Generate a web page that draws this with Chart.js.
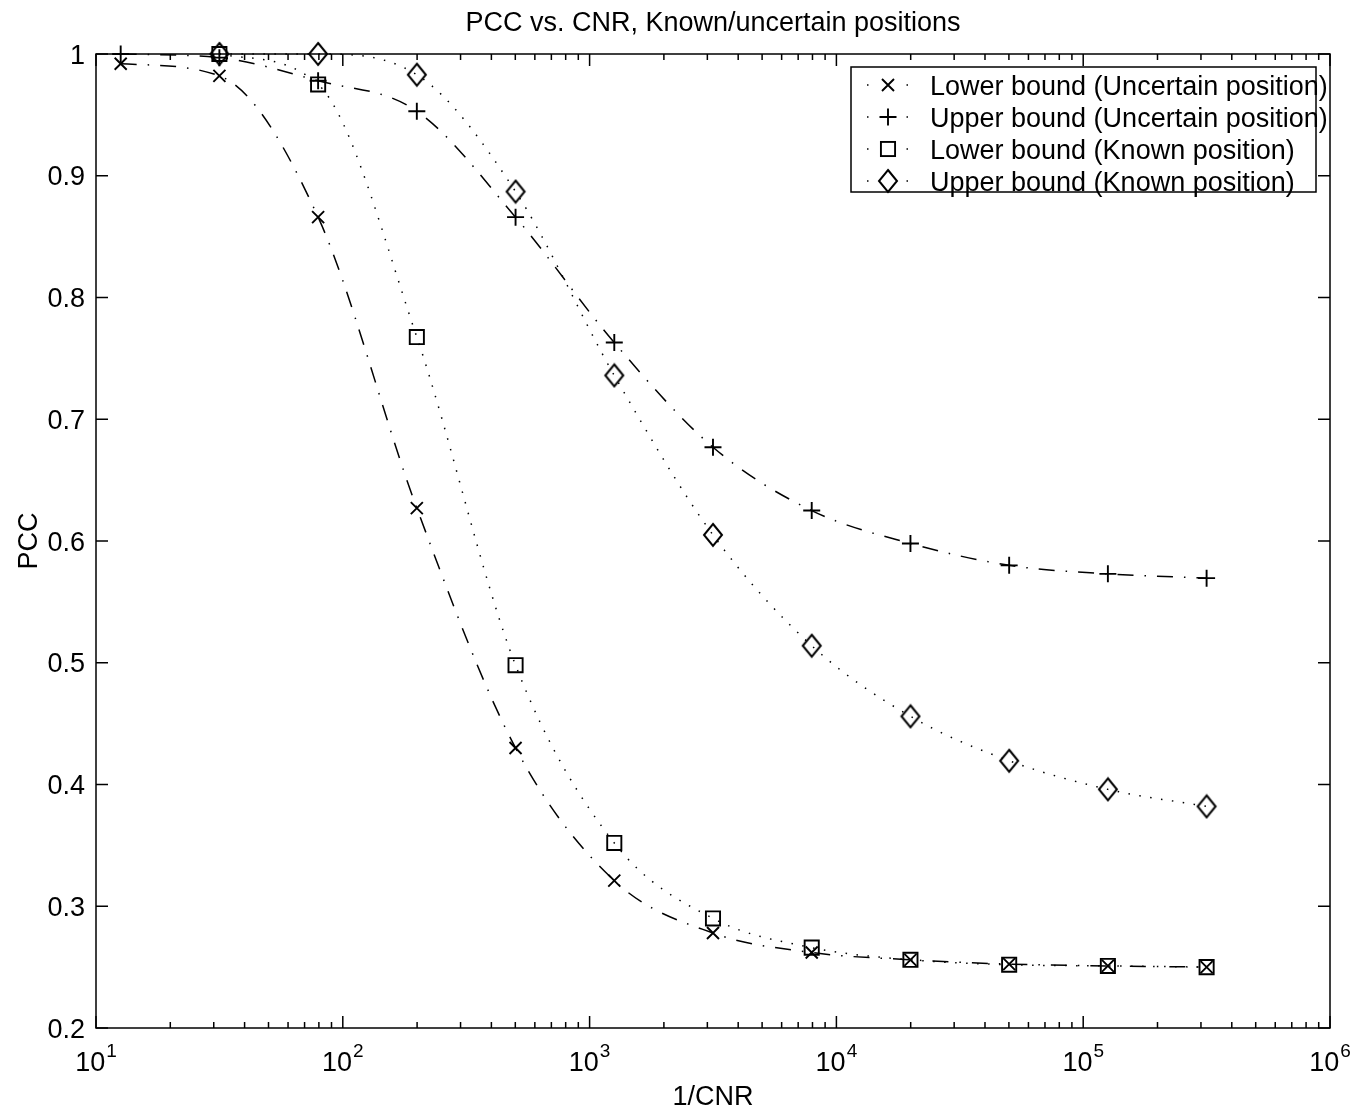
<!DOCTYPE html>
<html><head><meta charset="utf-8">
<script src="https://cdn.jsdelivr.net/npm/chart.js@4.4.0/dist/chart.umd.min.js"></script>
<style>html,body{margin:0;padding:0;background:#fff;} #wrap{width:1356px;height:1111px;position:relative;}</style>
</head><body><div id="wrap"><canvas id="c"></canvas></div>
<script>
// ---------- data ----------
const titleText = 'PCC vs. CNR, Known/uncertain positions';
const xAxisLabel = '1/CNR';
const yAxisLabel = 'PCC';
const cnr = [12.59, 31.62, 79.43, 199.5, 501.2, 1259, 3162, 7943, 19953, 50119, 125893, 316228];
const lowerUncertain = [0.992, 0.982, 0.866, 0.627, 0.430, 0.321, 0.278, 0.262, 0.256, 0.2525, 0.251, 0.250];
const upperUncertain = [1.000, 0.997, 0.978, 0.953, 0.866, 0.763, 0.677, 0.625, 0.598, 0.580, 0.573, 0.5695];
const lowerKnown     = [null, 1.000, 0.975, 0.7675, 0.498, 0.352, 0.290, 0.266, 0.256, 0.252, 0.251, 0.250];
const upperKnown     = [null, 1.000, 1.000, 0.983, 0.887, 0.736, 0.605, 0.514, 0.456, 0.4195, 0.396, 0.382];
const seriesLabels = ['Lower bound (Uncertain position)', 'Upper bound (Uncertain position)',
                      'Lower bound (Known position)', 'Upper bound (Known position)'];
const xMajorTicks = [10, 100, 1000, 10000, 100000, 1000000];
const xTickExponents = ['1', '2', '3', '4', '5', '6'];
const xMinorMultipliers = [2, 3, 4, 5, 6, 7, 8, 9];
const yTicks = [0.2, 0.3, 0.4, 0.5, 0.6, 0.7, 0.8, 0.9, 1.0];
const yTickLabels = ['0.2', '0.3', '0.4', '0.5', '0.6', '0.7', '0.8', '0.9', '1'];

// ---------- styles ----------
const FONT = "'Liberation Sans', Arial, Helvetica, sans-serif";
const FS = 27;
const dashDot = [16, 11, 1.5, 11];
const dotted = [1.5, 9.5];

function diamondCanvas() {
  const c = document.createElement('canvas');
  c.width = 22; c.height = 26;
  const g = c.getContext('2d');
  g.strokeStyle = '#000'; g.lineWidth = 2;
  g.beginPath(); g.moveTo(11, 2); g.lineTo(20, 13); g.lineTo(11, 24); g.lineTo(2, 13); g.closePath(); g.stroke();
  return c;
}
const diamondImg = diamondCanvas();

function pts(arr) { return cnr.map((x, i) => ({ x: x, y: arr[i] })); }

function ds(label, arr, dash, style, radius) {
  return {
    label: label, data: pts(arr), borderColor: '#000', borderWidth: 1.5, borderDash: dash,
    borderCapStyle: 'butt', fill: false, cubicInterpolationMode: 'monotone', clip: false,
    pointStyle: style, pointRadius: radius, pointHoverRadius: radius, pointBorderColor: '#000',
    pointBackgroundColor: 'rgba(0,0,0,0)', pointBorderWidth: 1.9, spanGaps: false
  };
}

const datasets = [
  ds(seriesLabels[0], lowerUncertain, dashDot, 'crossRot', 8.5),
  ds(seriesLabels[1], upperUncertain, dashDot, 'cross', 8.5),
  ds(seriesLabels[2], lowerKnown, dotted, 'rect', 10),
  ds(seriesLabels[3], upperKnown, dotted, diamondImg, 11)
];

function legendMarker(ctx, style, x, y) {
  ctx.save(); ctx.strokeStyle = '#000'; ctx.lineWidth = 1.9; ctx.setLineDash([]);
  ctx.beginPath();
  if (style === 'crossRot') {
    const s = 6; ctx.moveTo(x - s, y - s); ctx.lineTo(x + s, y + s); ctx.moveTo(x + s, y - s); ctx.lineTo(x - s, y + s); ctx.stroke();
  } else if (style === 'cross') {
    const s = 8.5; ctx.moveTo(x - s, y); ctx.lineTo(x + s, y); ctx.moveTo(x, y - s); ctx.lineTo(x, y + s); ctx.stroke();
  } else if (style === 'rect') {
    const s = 7.07; ctx.strokeRect(x - s, y - s, 2 * s, 2 * s);
  } else {
    ctx.drawImage(style, x - style.width / 2, y - style.height / 2);
  }
  ctx.restore();
}

const decor = {
  id: 'decor',
  afterDatasetsDraw(chart) {
    const ctx = chart.ctx, a = chart.chartArea, xs = chart.scales.x, ys = chart.scales.y;
    ctx.save();
    ctx.strokeStyle = '#000'; ctx.fillStyle = '#000'; ctx.lineWidth = 1.5; ctx.setLineDash([]);
    ctx.strokeRect(a.left, a.top, a.right - a.left, a.bottom - a.top);
    ctx.beginPath();
    xMajorTicks.forEach(v => {
      const p = xs.getPixelForValue(v);
      ctx.moveTo(p, a.bottom); ctx.lineTo(p, a.bottom - 12);
      ctx.moveTo(p, a.top); ctx.lineTo(p, a.top + 12);
    });
    xMajorTicks.slice(0, -1).forEach(d => xMinorMultipliers.forEach(m => {
      const p = xs.getPixelForValue(d * m);
      ctx.moveTo(p, a.bottom); ctx.lineTo(p, a.bottom - 6);
      ctx.moveTo(p, a.top); ctx.lineTo(p, a.top + 6);
    }));
    yTicks.forEach(v => {
      const p = ys.getPixelForValue(v);
      ctx.moveTo(a.left, p); ctx.lineTo(a.left + 12, p);
      ctx.moveTo(a.right, p); ctx.lineTo(a.right - 12, p);
    });
    ctx.stroke();

    // y tick labels
    ctx.font = FS + 'px ' + FONT; ctx.textAlign = 'right'; ctx.textBaseline = 'alphabetic';
    yTicks.forEach((v, i) => {
      const p = ys.getPixelForValue(v);
      ctx.fillText(yTickLabels[i], a.left - 11, p + 9.6);
    });
    // x tick labels: 10^n
    ctx.textAlign = 'left';
    xMajorTicks.forEach((v, i) => {
      const p = xs.getPixelForValue(v);
      ctx.font = FS + 'px ' + FONT;
      const wb = ctx.measureText('10').width;
      ctx.font = '19px ' + FONT;
      const we = ctx.measureText(xTickExponents[i]).width;
      const x0 = p - (wb + we + 1) / 2;
      ctx.font = FS + 'px ' + FONT;
      ctx.fillText('10', x0, a.bottom + 43);
      ctx.font = '19px ' + FONT;
      ctx.fillText(xTickExponents[i], x0 + wb + 1, a.bottom + 29);
    });
    // title and axis labels
    ctx.font = FS + 'px ' + FONT; ctx.textAlign = 'center';
    const cx = (a.left + a.right) / 2;
    ctx.fillText(titleText, cx, 31);
    ctx.fillText(xAxisLabel, cx, a.bottom + 77);
    ctx.save();
    ctx.translate(37, (a.top + a.bottom) / 2); ctx.rotate(-Math.PI / 2);
    ctx.fillText(yAxisLabel, 0, 0);
    ctx.restore();

    // legend
    const lx = 851, ly = 67, lw = 465, lh = 125;
    ctx.fillStyle = '#fff'; ctx.fillRect(lx, ly, lw, lh);
    ctx.strokeStyle = '#000'; ctx.lineWidth = 1.5; ctx.strokeRect(lx, ly, lw, lh);
    ctx.fillStyle = '#000'; ctx.textAlign = 'left'; ctx.font = FS + 'px ' + FONT;
    chart.data.datasets.forEach((d, i) => {
      const y = 85 + i * 32;
      ctx.save(); ctx.lineWidth = 1.5; ctx.setLineDash([1.5, 38]);
      ctx.beginPath(); ctx.moveTo(867, y); ctx.lineTo(910, y); ctx.stroke(); ctx.restore();
      legendMarker(ctx, d.pointStyle, 888, y);
      ctx.fillText(d.label, 930, y + 9.6);
    });
    ctx.restore();
  }
};

new Chart(document.getElementById('c'), {
  type: 'line',
  data: { datasets: datasets },
  options: {
    responsive: true, maintainAspectRatio: false, animation: false, events: [],
    layout: { padding: { left: 96, top: 54, right: 26, bottom: 83 } },
    plugins: { legend: { display: false }, tooltip: { enabled: false }, title: { display: false } },
    scales: {
      x: { type: 'logarithmic', min: 10, max: 1000000, display: false },
      y: { type: 'linear', min: 0.2, max: 1.0, display: false }
    }
  },
  plugins: [decor]
});
</script></body></html>
